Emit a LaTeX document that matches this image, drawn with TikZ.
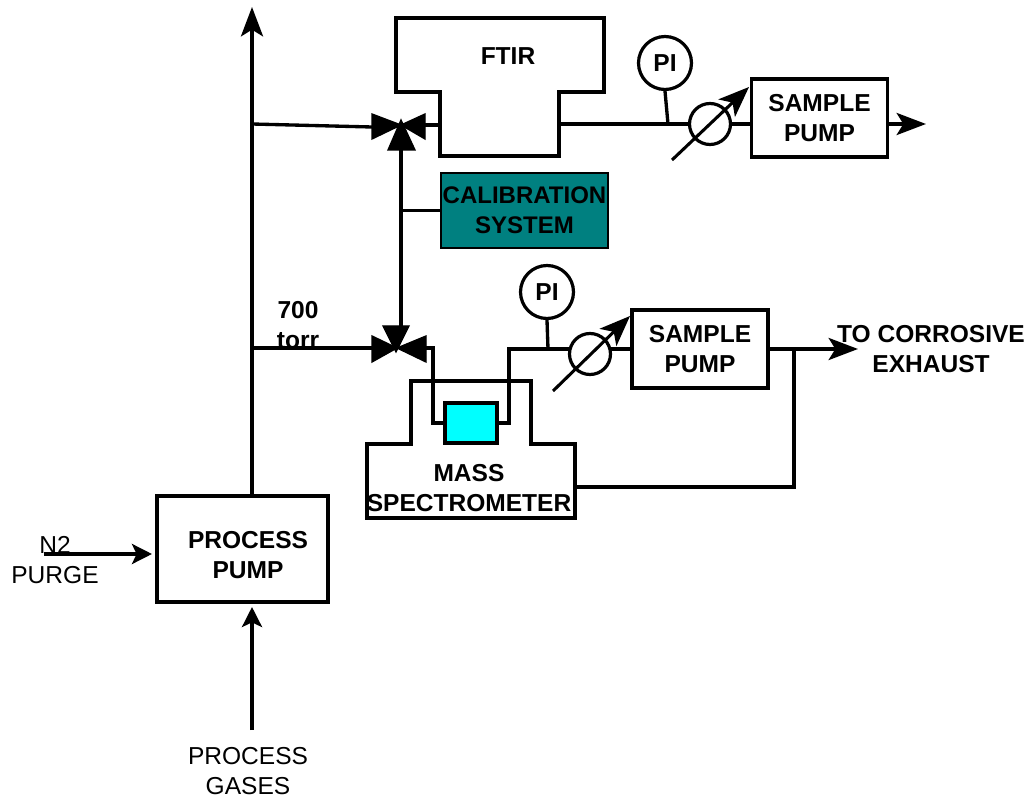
\documentclass[tikz,border=0pt]{standalone}
\usepackage{fontspec}
\setmainfont{Liberation Sans}
\usetikzlibrary{arrows.meta, positioning, calc}
\definecolor{calteal}{RGB}{0,128,128}
\definecolor{cellcyan}{RGB}{0,255,255}
\tikzset{
  pipe/.style={line width=2.5pt},
  flow/.style={line width=2.8pt,-{Stealth[length=15pt,width=15pt,inset=3.5pt]}},
  flowbig/.style={line width=2.8pt,-{Stealth[length=22pt,width=16.5pt,inset=5pt]}},
  dial/.style={line width=2.3pt,-{Stealth[length=23pt,width=18pt,inset=6pt]}},
  box/.style={draw,line width=2.3pt,inner sep=0pt,align=center},
  txt/.style={font=\fontsize{18.4}{22.5}\selectfont,align=center,inner sep=0pt},
  btxt/.style={font=\bfseries\fontsize{18.4}{22.5}\selectfont,align=center,inner sep=0pt},
  gauge/.style={draw,circle,line width=2.4pt,minimum size=53\pxu,inner sep=0pt,font=\bfseries\fontsize{18.4}{22}\selectfont},
  meter/.style={draw,circle,line width=2.4pt,minimum size=41\pxu,inner sep=0pt},
  valve/.style={line width=1pt,line join=miter},
}
\newcommand{\pxu}{*0.75pt}
\begin{document}
\begin{tikzpicture}[x=0.75pt,y=-0.75pt]
\useasboundingbox (0,0) rectangle (1032,802);
% Valve centres and tees
\coordinate (vtop) at (401,125);
\coordinate (vlow) at (397,348);
\coordinate (teeA) at (252,124);
\coordinate (teeB) at (252,348);
\coordinate (teeC) at (401,210.5);
\coordinate (teeD) at (668,124);
\coordinate (teeE) at (548,349);
\coordinate (teeF) at (794,349);
\coordinate (topend) at (252,7);
% Boxes
\node[box,minimum width=136\pxu,minimum height=78\pxu,btxt] (pumpA) at (819.5,118) {SAMPLE\\PUMP};
\node[box,minimum width=136\pxu,minimum height=78\pxu,btxt] (pumpB) at (700,349) {SAMPLE\\PUMP};
\node[box,line width=1.2pt,fill=calteal,minimum width=167\pxu,minimum height=75\pxu,btxt,font=\bfseries\fontsize{18}{22.5}\selectfont] (calib) at (524.5,210.5) {CALIBRATION\\SYSTEM};
\node[box,fill=cellcyan,minimum width=52\pxu,minimum height=40\pxu] (cell) at (471,423) {};
\node[box,minimum width=171\pxu,minimum height=106\pxu] (process) at (242.5,549) {};
\node[btxt] (processtxt) at (248,555) {PROCESS\\PUMP};
% FTIR outline
\draw[line width=2.3pt] (396,18) -- (604,18) -- (604,92) -- (559,92) -- (559,156) -- (440,156) -- (440,92) -- (396,92) -- cycle;
\node[btxt] (ftir) at (508,56) {FTIR};
% Mass spectrometer outline
\draw[line width=2.3pt] (367,444) -- (411,444) -- (411,381) -- (531,381) -- (531,444) -- (575,444) -- (575,518) -- (367,518) -- cycle;
\node[btxt] (mass) at (469,488) {MASS\\SPECTROMETER};
% Gauges and meters
\node[gauge] (piA) at (665,63) {PI};
\node[gauge] (piB) at (547,292) {PI};
\node[meter] (meterA) at (710,124) {};
\node[meter] (meterB) at (590,354) {};
% Valves
\filldraw[valve] (vtop) ++(-29,-11) -- ++(0,25) -- ++(29,-14) -- ++(24,14) -- ++(0,-25) -- ++(-24,11) -- cycle;
\filldraw[valve] (vtop) ++(-13,25) -- ++(27,0) -- ++(-14,-30) -- cycle;
\filldraw[valve] (vlow) ++(-25,-12) -- ++(0,26) -- ++(25,-14) -- ++(29,14) -- ++(0,-26) -- ++(-29,12) -- cycle;
\filldraw[valve] (vlow) ++(-14,-22) -- ++(26,0) -- ++(-13,26) -- cycle;
% Main line
\draw[flowbig] (process.north -| teeA) -- (topend);
\draw[pipe] (teeA) -- (372,127);
\draw[pipe] (teeB) -- (372,348);
\draw[pipe] (401,150) -- (401,326);
\draw[pipe] (calib.west) -- (teeC);
% FTIR branch
\draw[pipe] (425,125) -- (440,125);
\draw[pipe] (559,124) -- (meterA.west);
\draw[pipe] (meterA.east) -- (pumpA.west |- meterA);
\draw[pipe] (piA.south) -- (teeD);
\draw[dial] (672,160) -- (749,87);
\draw[flowbig] (pumpA.east |- meterA) -- (926,124);
% Mass spectrometer branch
\draw[pipe] (426,348) -- (433,348) -- (433,423) -- (cell.west);
\draw[pipe] (cell.east) -- (509,423) -- (509,349) -- (571,349);
\draw[pipe] (piB.south) -- (teeE);
\draw[dial] (553,391) -- (630,316);
\draw[pipe] (610,349) -- (pumpB.west);
\draw[flowbig] (pumpB.east) -- (858,349);
\draw[pipe] (575,487) -- (794,487) -- (teeF);
% Inlets
\draw[flow] (44,554) -- (152,554);
\coordinate (gasstart) at (252,730);
\coordinate (gasend) at (252,607);
\draw[flow] (gasstart) -- (gasend);
% Labels
\node[btxt] (torr) at (298,325) {700\\torr};
\node[btxt] (exhaust) at (931,349) {TO CORROSIVE\\EXHAUST};
\node[txt] (purge) at (55,560) {N2\\PURGE};
\node[txt] (gases) at (248,771) {PROCESS\\GASES};
\end{tikzpicture}
\end{document}
